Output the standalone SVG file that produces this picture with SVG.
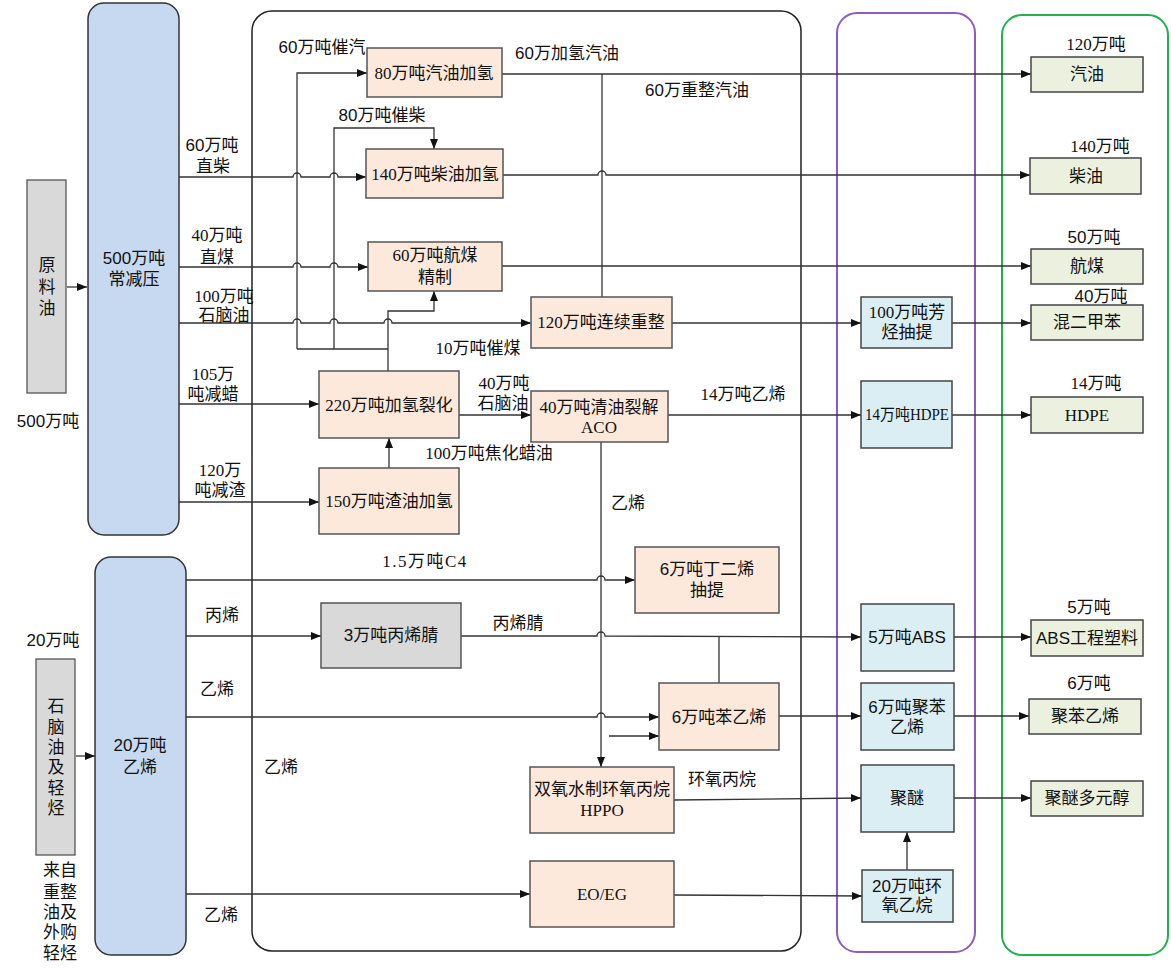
<svg xmlns="http://www.w3.org/2000/svg" width="1171" height="971" viewBox="0 0 1171 971">
<style>
text{font-family:"Liberation Sans","Noto Sans CJK SC",sans-serif;font-size:17px;fill:#111;text-anchor:middle;dominant-baseline:central}
text.s{font-family:"Liberation Serif","Noto Sans CJK SC",serif}
.feed{fill:#c6d9f0;stroke:#333;stroke-width:1.5}
.raw{fill:#d9d9d9;stroke:#555;stroke-width:1.3}
.proc{fill:#fce9dc;stroke:#555;stroke-width:1.5}
.gray{fill:#d9d9d9;stroke:#555;stroke-width:1.5}
.blue{fill:#daeef3;stroke:#444;stroke-width:1.5}
.prod{fill:#ebf1de;stroke:#444;stroke-width:1.5}
.c{fill:none;stroke:#333;stroke-width:1.3}
.a{marker-end:url(#arr)}
</style>
<defs>
<marker id="arr" markerUnits="userSpaceOnUse" markerWidth="11" markerHeight="10" refX="10" refY="5" orient="auto">
<path d="M0,1 L10,5 L0,9 z" fill="#111"/>
</marker>
</defs>

<g id="containers" fill="none">
<rect x="252" y="11" width="549" height="940" rx="20" stroke="#222" stroke-width="1.5"/>
<rect x="837" y="13" width="138" height="939" rx="20" stroke="#8e5bc5" stroke-width="2"/>
<rect x="1002" y="15" width="166" height="940" rx="20" stroke="#22b04c" stroke-width="2"/>
</g>

<g id="connectors">
<path class="c a" d="M67 287 L87 287"/>
<path class="c a" d="M76 756 L95 756"/>
<path class="c a" d="M179 177 L293 177 A4 4 0 0 1 301 177 L330 177 A4 4 0 0 1 338 177 L366 177"/>
<path class="c a" d="M179 267 L293 267 A4 4 0 0 1 301 267 L330 267 A4 4 0 0 1 338 267 L368 267"/>
<path class="c a" d="M179 323 L293 323 A4 4 0 0 1 301 323 L330 323 A4 4 0 0 1 338 323 L384 323 A4 4 0 0 1 392 323 L531 323"/>
<path class="c a" d="M179 404 L319 404"/>
<path class="c a" d="M179 502 L319 502"/>
<path class="c a" d="M297 349 L297 73 L367 73"/>
<path class="c a" d="M334 349 L334 128 L434 128 L434 149"/>
<path class="c" d="M297 349 L388 349"/>
<path class="c a" d="M388 371 L388 311 L434 311 L434 291"/>
<path class="c a" d="M389 468 L389 438"/>
<path class="c a" d="M459 415 L531 415"/>
<path class="c a" d="M502 74 L1031 74"/>
<path class="c" d="M602 297 L602 74"/>
<path class="c a" d="M503 175 L598 175 A4 4 0 0 1 606 175 L1030 175"/>
<path class="c a" d="M502 266 L1031 266"/>
<path class="c a" d="M672 323 L861 323"/>
<path class="c a" d="M952 323 L1031 323"/>
<path class="c a" d="M668 415 L861 415"/>
<path class="c a" d="M951 415 L1031 415"/>
<path class="c a" d="M601 442 L601 767"/>
<path class="c a" d="M186 580 L597 580 A4 4 0 0 1 605 580 L635 580"/>
<path class="c a" d="M186 636 L321 636"/>
<path class="c a" d="M461 636 L597 636 A4 4 0 0 1 605 636 L861 637"/>
<path class="c" d="M719 683 L719 637"/>
<path class="c a" d="M186 717 L597 717 A4 4 0 0 1 605 717 L659 717"/>
<path class="c a" d="M609 736 L659 736"/>
<path class="c a" d="M779 716 L861 716"/>
<path class="c a" d="M953 716 L1029 716"/>
<path class="c a" d="M954 637 L1031 637"/>
<path class="c a" d="M674 800 L861 798"/>
<path class="c a" d="M953 798 L1031 798"/>
<path class="c a" d="M186 894 L530 894"/>
<path class="c a" d="M674 895 L862 896"/>
<path class="c a" d="M907 870 L907 832"/>
</g>

<g id="labels">
<text x="322" y="47">60万吨催汽</text>
<text x="567" y="53">60万加氢汽油</text>
<text x="697" y="90">60万重整汽油</text>
<text x="382" y="115">80万吨催柴</text>
<text x="212" y="145">60万吨</text>
<text x="213" y="166">直柴</text>
<text class="s" x="217" y="235">40万吨</text>
<text x="217" y="257">直煤</text>
<text class="s" x="224" y="296">100万吨</text>
<text x="224" y="315">石脑油</text>
<text class="s" x="478" y="348">10万吨催煤</text>
<text class="s" x="213" y="374">105万</text>
<text x="213" y="394">吨减蜡</text>
<text class="s" x="504" y="383">40万吨</text>
<text x="503" y="403">石脑油</text>
<text class="s" x="743" y="394">14万吨乙烯</text>
<text class="s" x="489" y="453">100万吨焦化蜡油</text>
<text class="s" x="220" y="470">120万</text>
<text x="220" y="490">吨减渣</text>
<text x="628" y="503">乙烯</text>
<text class="s" x="425" y="561" letter-spacing="1.5">1.5万吨C4</text>
<text x="222" y="615">丙烯</text>
<text x="518" y="623">丙烯腈</text>
<text x="217" y="689">乙烯</text>
<text x="281" y="767">乙烯</text>
<text x="722" y="779">环氧丙烷</text>
<text x="221" y="915">乙烯</text>
<text x="48" y="421">500万吨</text>
<text x="53" y="640">20万吨</text>
<text x="60" y="870">来自</text>
<text x="60" y="892">重整</text>
<text x="60" y="912">油及</text>
<text x="60" y="932">外购</text>
<text x="60" y="953">轻烃</text>
<text class="s" x="1096" y="44">120万吨</text>
<text class="s" x="1100" y="146">140万吨</text>
<text x="1094" y="237">50万吨</text>
<text x="1101" y="296">40万吨</text>
<text class="s" x="1096" y="383">14万吨</text>
<text x="1089" y="607">5万吨</text>
<text x="1089" y="683">6万吨</text>
</g>

<g id="n-yuanliaoyou">
<rect class="raw" x="27" y="180" width="39" height="213"/>
<text x="47" y="265">原</text><text x="47" y="287">料</text><text x="47" y="308">油</text>
</g>
<g id="n-changjianya">
<rect class="feed" x="88" y="3" width="91" height="532" rx="16"/>
<text x="134" y="258">500万吨</text><text x="134" y="279">常减压</text>
</g>
<g id="n-naphtha">
<rect class="raw" x="36" y="659" width="39" height="196"/>
<text x="56" y="706">石</text><text x="56" y="727">脑</text><text x="56" y="747">油</text><text x="56" y="767">及</text><text x="56" y="788">轻</text><text x="56" y="808">烃</text>
</g>
<g id="n-ethylene20">
<rect class="feed" x="95" y="557" width="91" height="398" rx="16"/>
<text x="140" y="745">20万吨</text><text x="140" y="767">乙烯</text>
</g>

<g id="n-gas-hydro"><rect class="proc" x="367" y="48" width="135" height="49"/><text class="s" x="434" y="73">80万吨汽油加氢</text></g>
<g id="n-diesel-hydro"><rect class="proc" x="366" y="149" width="137" height="49"/><text class="s" x="435" y="174">140万吨柴油加氢</text></g>
<g id="n-jet"><rect class="proc" x="368" y="242" width="134" height="49"/><text class="s" x="435" y="255">60万吨航煤</text><text x="435" y="277">精制</text></g>
<g id="n-reform"><rect class="proc" x="531" y="297" width="141" height="51"/><text class="s" x="601" y="322">120万吨连续重整</text></g>
<g id="n-hydrocrack"><rect class="proc" x="319" y="371" width="140" height="67"/><text class="s" x="389" y="405">220万吨加氢裂化</text></g>
<g id="n-aco"><rect class="proc" x="531" y="391" width="137" height="51"/><text class="s" x="599" y="407">40万吨清油裂解</text><text class="s" x="599" y="427">ACO</text></g>
<g id="n-resid"><rect class="proc" x="319" y="468" width="140" height="66"/><text class="s" x="389" y="501">150万吨渣油加氢</text></g>
<g id="n-butadiene"><rect class="proc" x="635" y="547" width="144" height="66"/><text x="707" y="569">6万吨丁二烯</text><text x="707" y="590">抽提</text></g>
<g id="n-acrylonitrile"><rect class="gray" x="321" y="603" width="140" height="65"/><text x="391" y="635">3万吨丙烯腈</text></g>
<g id="n-styrene"><rect class="proc" x="659" y="683" width="120" height="67"/><text x="719" y="717">6万吨苯乙烯</text></g>
<g id="n-hppo"><rect class="proc" x="530" y="767" width="144" height="66"/><text x="602" y="789">双氧水制环氧丙烷</text><text class="s" x="602" y="810">HPPO</text></g>
<g id="n-eoeg"><rect class="proc" x="530" y="861" width="144" height="66"/><text class="s" x="602" y="894">EO/EG</text></g>

<g id="n-aromatics"><rect class="blue" x="861" y="297" width="91" height="51"/><text class="s" x="907" y="312">100万吨芳</text><text x="907" y="332">烃抽提</text></g>
<g id="n-hdpe"><rect class="blue" x="861" y="381" width="91" height="67"/><text class="s" x="907" y="414" style="font-size:16px" textLength="84" lengthAdjust="spacingAndGlyphs">14万吨HDPE</text></g>
<g id="n-abs"><rect class="blue" x="861" y="604" width="93" height="67"/><text x="907" y="637">5万吨ABS</text></g>
<g id="n-ps"><rect class="blue" x="861" y="683" width="93" height="67"/><text x="907" y="707">6万吨聚苯</text><text x="907" y="727">乙烯</text></g>
<g id="n-polyether"><rect class="blue" x="861" y="765" width="93" height="67"/><text x="907" y="798">聚醚</text></g>
<g id="n-eo"><rect class="blue" x="862" y="870" width="91" height="52"/><text x="907" y="886">20万吨环</text><text x="907" y="905">氧乙烷</text></g>

<g id="p-gasoline"><rect class="prod" x="1031" y="57" width="112" height="35"/><text x="1087" y="74">汽油</text></g>
<g id="p-diesel"><rect class="prod" x="1030" y="158" width="111" height="36"/><text x="1086" y="176">柴油</text></g>
<g id="p-jet"><rect class="prod" x="1031" y="249" width="112" height="35"/><text x="1087" y="266">航煤</text></g>
<g id="p-xylene"><rect class="prod" x="1031" y="305" width="112" height="35"/><text x="1087" y="322">混二甲苯</text></g>
<g id="p-hdpe"><rect class="prod" x="1031" y="397" width="112" height="36"/><text class="s" x="1087" y="415">HDPE</text></g>
<g id="p-abs"><rect class="prod" x="1031" y="620" width="112" height="36"/><text x="1087" y="638">ABS工程塑料</text></g>
<g id="p-ps"><rect class="prod" x="1029" y="699" width="112" height="35"/><text x="1085" y="716">聚苯乙烯</text></g>
<g id="p-polyol"><rect class="prod" x="1031" y="781" width="112" height="35"/><text x="1087" y="798">聚醚多元醇</text></g>
</svg>
